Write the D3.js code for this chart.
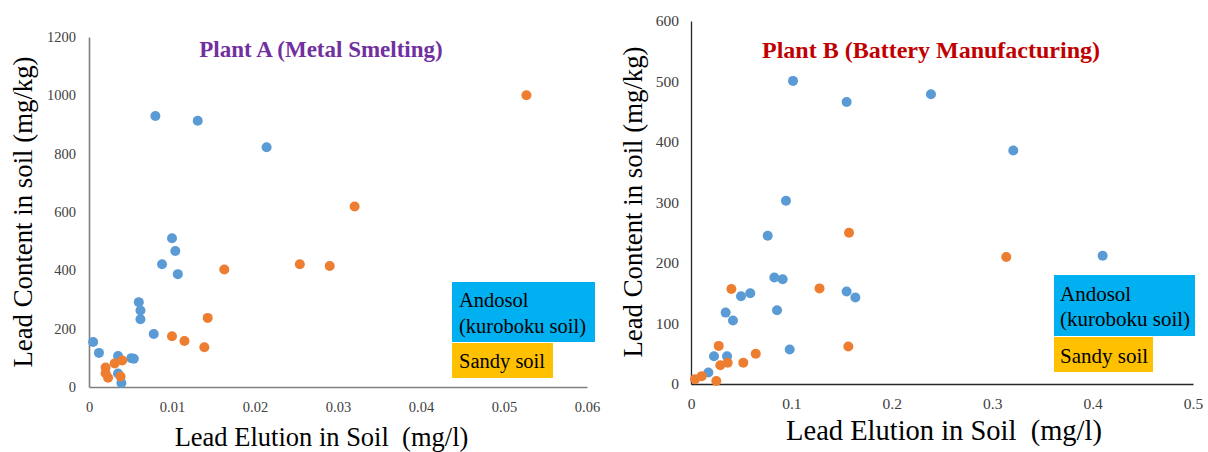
<!DOCTYPE html>
<html>
<head>
<meta charset="utf-8">
<script src="https://cdn.jsdelivr.net/npm/d3@7"></script>
<style>
  html, body { margin: 0; padding: 0; background: #fff; }
  svg { display: block; }
  svg text { font-family: "Liberation Serif", "Times New Roman", serif; }
</style>
</head>
<body>
<svg id="chart" width="1208" height="452"></svg>
<script>
// Lead elution (mg/l) vs lead content (mg/kg), [elution, content]
const plantAAndosol = [
  [0.0080, 929], [0.0131, 913], [0.0214, 822], [0.0100, 510], [0.0104, 466],
  [0.0088, 421], [0.0107, 387], [0.0060, 291], [0.0062, 262], [0.0062, 232],
  [0.0078, 182], [0.0005, 154], [0.0012, 117], [0.0035, 106], [0.0051, 99],
  [0.0054, 97], [0.0035, 46], [0.0039, 14]
];
const plantASandy = [
  [0.0527, 1000], [0.0320, 619], [0.0254, 421], [0.0290, 415], [0.0163, 403],
  [0.0143, 237], [0.0100, 174], [0.0115, 158], [0.0139, 136], [0.0040, 91],
  [0.0031, 81], [0.0020, 67], [0.0020, 47], [0.0023, 32], [0.0038, 36]
];
const plantBAndosol = [
  [0.1016, 501], [0.155, 466], [0.239, 479], [0.321, 386], [0.0946, 303],
  [0.410, 212], [0.0764, 245], [0.083, 176], [0.0913, 173], [0.059, 150],
  [0.0498, 145], [0.0345, 118], [0.0418, 105], [0.0857, 122], [0.155, 153],
  [0.1637, 143], [0.0983, 57], [0.0229, 46], [0.0359, 46], [0.0173, 19]
];
const plantBSandy = [
  [0.1574, 250], [0.128, 158], [0.0402, 157], [0.314, 210], [0.1567, 62],
  [0.0276, 63], [0.0645, 50], [0.0521, 35], [0.0365, 35], [0.0292, 31],
  [0.0107, 13], [0.004, 8], [0.0252, 5]
];

const plantAXTicks = [0, 0.01, 0.02, 0.03, 0.04, 0.05, 0.06];
const plantAYTicks = [0, 200, 400, 600, 800, 1000, 1200];
const plantBXTicks = [0, 0.1, 0.2, 0.3, 0.4, 0.5];
const plantBYTicks = [0, 100, 200, 300, 400, 500, 600];

const titles = ["Plant A (Metal Smelting)", "Plant B (Battery Manufacturing)"];
const legendLabels = [["Andosol", "(kuroboku soil)"], ["Sandy soil"]];
const xTitle = "Lead Elution in Soil\u00a0\u00a0(mg/l)";
const yTitle = "Lead Content in soil (mg/kg)";

const SERIF = "'Liberation Serif', 'Times New Roman', serif";
const COLORS = { andosol: "#5B9BD5", sandy: "#ED7D31", andosolBox: "#00B0F0", sandyBox: "#FFC000" };

const svg = d3.select("#chart");

function label(sel, size) {
  return sel.attr("font-family", SERIF).style("font-family", SERIF).style("font-size", size + "px");
}

function panel(cfg) {
  const g = svg.append("g");
  const x = d3.scaleLinear().domain([cfg.xTicks[0], cfg.xTicks[cfg.xTicks.length - 1]]).range(cfg.xRange);
  const y = d3.scaleLinear().domain([cfg.yTicks[0], cfg.yTicks[cfg.yTicks.length - 1]]).range(cfg.yRange);

  const xAxis = g.append("g")
    .attr("transform", `translate(0,${cfg.yRange[0]})`)
    .call(d3.axisBottom(x).tickValues(cfg.xTicks).tickFormat(d => String(d)).tickSize(0).tickPadding(cfg.xPad));
  const yAxis = g.append("g")
    .attr("transform", `translate(${cfg.xRange[0]},0)`)
    .call(d3.axisLeft(y).tickValues(cfg.yTicks).tickFormat(d => String(d)).tickSize(0).tickPadding(cfg.yPad));

  [xAxis, yAxis].forEach(a => {
    a.attr("font-family", SERIF);
    a.select(".domain").attr("stroke", cfg.axisColor).attr("stroke-width", cfg.axisWidth);
    label(a.selectAll("text").attr("fill", "#404040"), cfg.tickSize);
  });

  // scatter points, andosol under sandy soil
  g.append("g").selectAll("circle").data(cfg.andosol).join("circle")
    .attr("cx", d => x(d[0])).attr("cy", d => y(d[1])).attr("r", cfg.r)
    .attr("fill", COLORS.andosol);
  g.append("g").selectAll("circle").data(cfg.sandy).join("circle")
    .attr("cx", d => x(d[0])).attr("cy", d => y(d[1])).attr("r", cfg.r)
    .attr("fill", COLORS.sandy);

  // panel title
  label(g.append("text"), cfg.title.size)
    .attr("x", cfg.title.x).attr("y", cfg.title.y)
    .attr("text-anchor", "middle").attr("font-weight", "bold")
    .attr("fill", cfg.title.color)
    .text(cfg.title.text);

  // axis titles
  label(g.append("text"), cfg.xTitle.size)
    .attr("x", cfg.xTitle.x).attr("y", cfg.xTitle.y)
    .attr("text-anchor", "middle").attr("fill", "#000").text(xTitle);
  label(g.append("text"), cfg.yTitle.size)
    .attr("transform", `translate(${cfg.yTitle.x},${cfg.yTitle.y}) rotate(-90)`)
    .attr("text-anchor", "middle").attr("fill", "#000").text(yTitle);

  // soil-type legend boxes
  const lg = cfg.legend;
  g.append("rect").attr("x", lg.x).attr("y", lg.y1).attr("width", lg.w1).attr("height", lg.h1)
    .attr("fill", COLORS.andosolBox);
  g.append("rect").attr("x", lg.x).attr("y", lg.y2).attr("width", lg.w2).attr("height", lg.h2)
    .attr("fill", COLORS.sandyBox);
  legendLabels[0].forEach((t, i) => {
    label(g.append("text"), lg.size)
      .attr("x", lg.x + lg.pad).attr("y", lg.base1[i]).attr("fill", "#000").text(t);
  });
  label(g.append("text"), lg.size)
    .attr("x", lg.x + lg.pad).attr("y", lg.base2).attr("fill", "#000").text(legendLabels[1][0]);
}

panel({
  xTicks: plantAXTicks, yTicks: plantAYTicks,
  xRange: [89, 587], yRange: [387, 37],
  xPad: 15, yPad: 13, tickSize: 14.5,
  axisColor: "#7f7f7f", axisWidth: 1.6, r: 5,
  andosol: plantAAndosol, sandy: plantASandy,
  title: { text: titles[0], x: 321, y: 57, size: 23, color: "#7030A0" },
  xTitle: { x: 321.5, y: 446, size: 26.5 },
  yTitle: { x: 32, y: 212, size: 26.8 },
  legend: { x: 452, y1: 282, w1: 143, h1: 60, y2: 343, w2: 101, h2: 35,
            pad: 7, size: 20.5, base1: [307, 333], base2: 368 }
});

panel({
  xTicks: plantBXTicks, yTicks: plantBYTicks,
  xRange: [691, 1193], yRange: [384, 21],
  xPad: 13.5, yPad: 12, tickSize: 15.5,
  axisColor: "#262626", axisWidth: 1.3, r: 5,
  andosol: plantBAndosol, sandy: plantBSandy,
  title: { text: titles[1], x: 931, y: 58, size: 24, color: "#C00000" },
  xTitle: { x: 944, y: 440, size: 28.5 },
  yTitle: { x: 641.5, y: 202, size: 26.8 },
  legend: { x: 1054, y1: 275, w1: 141, h1: 61, y2: 337, w2: 99, h2: 35,
            pad: 6, size: 21, base1: [301, 326], base2: 362.5 }
});
</script>
</body>
</html>
